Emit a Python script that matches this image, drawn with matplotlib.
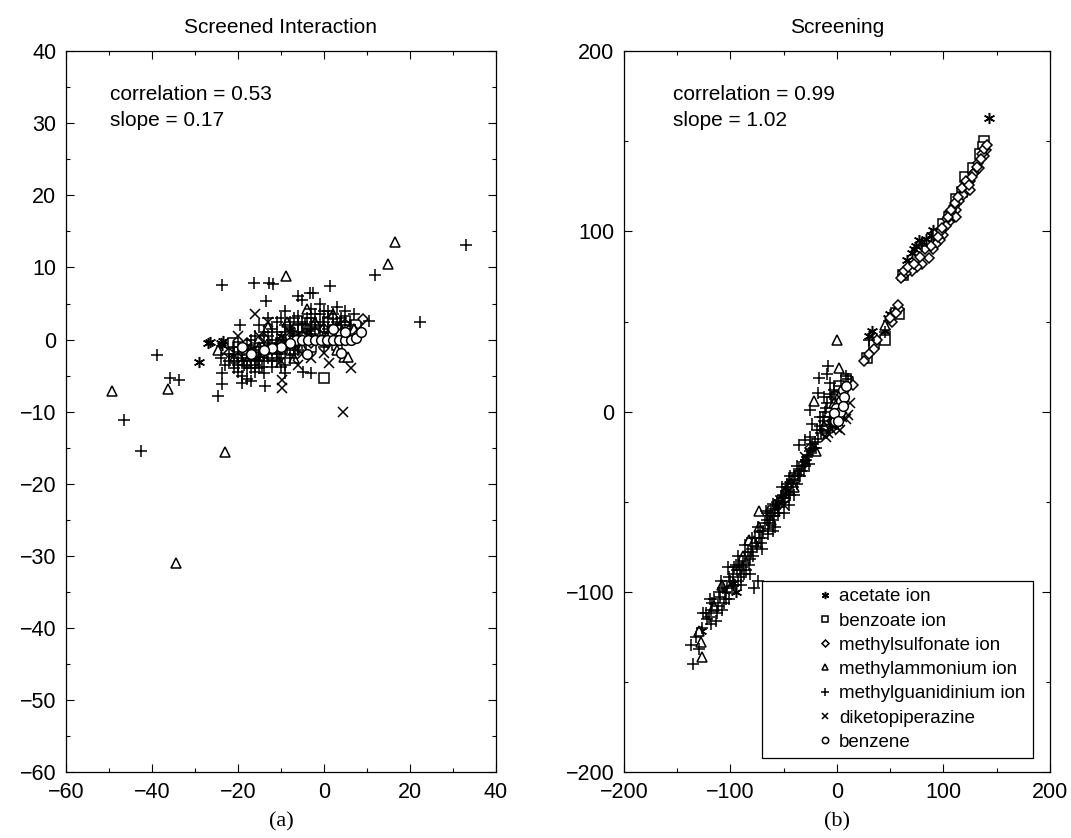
"""Two-panel scatter: screened interaction (a) and screening (b) comparison."""
import matplotlib

matplotlib.use("Agg")
import matplotlib.pyplot as plt  # noqa: E402
from matplotlib.ticker import MultipleLocator  # noqa: E402

plt.rcParams["font.family"] = ["Liberation Sans", "DejaVu Sans"]

SPECIES = ["acetate ion", "benzoate ion", "methylsulfonate ion", "methylammonium ion",
           "methylguanidinium ion", "diketopiperazine", "benzene"]

# ---- panel (a): screened interaction ---------------------------------------
acetate_a = [(-29, -3.1), (-26.9, -0.5), (-26.5, -0.3), (-24, -0.5), (-23.5, -0.2),
             (-23.8, -0.7), (-12, -1.5), (-8, -0.8), (-5, 0.3), (-15, -2.2), (-18, -1.5),
             (-3, 1.0), (-10, 0.5), (0, 1.2), (2, 0.6)]
benzoate_a = [(-21.2, -0.5), (-20, -1), (0, -5.3), (5, 2.6), (7.4, 2.0), (-10, -0.5),
              (-5, 0.2), (-15, -1.2), (-18, -2.2), (2, 0.5), (4, 1.2), (-8, -1.5),
              (-12, -2.2), (-3, -1), (1, 2.5), (-6, 1.5), (-1, 0.5), (3, -0.8)]
methylsulfonate_a = [(9.1, 2.9), (-5, 0.5), (-2, 1), (0, 1.5), (3, 1.8), (-8, -0.5),
                     (-12, -1.5), (-16, -2), (-20, -2.5), (5, 2.2), (-3, -0.5), (-14, 0.2),
                     (-10, -1.2), (6, 0.8), (1, -0.5), (-18, -0.5), (-22, -1.8)]
methylammonium_a = [(-49.4, -7.2), (-36.2, -6.8), (-34.5, -31), (-23, -15.6), (16.5, 13.5),
                    (15, 10.5), (-8.8, 8.8), (-4, 4.2), (2, 3.5), (-8.7, 2.5), (-24.6, -1.5),
                    (4.7, -2.4), (5.7, -2.4), (-15, -1), (-10, 0), (-5, -1), (-18, -3),
                    (0, 0.5), (-21, -2.5), (-13, 1.8), (-2, 2.5), (3, -1.5), (-7, -2.5),
                    (7, 1.5)]
methylguanidinium_a = [(-46.5, -11.2), (-42.6, -15.4), (-38.8, -2.2), (-35.8, -5.4),
                       (-33.7, -5.6), (-23.6, -4.7), (-23.8, -6.2), (-24.6, -7.8),
                       (-13.7, -6.4), (-9.1, -4.6), (-4.8, -4.5), (-3.1, -4.7), (-23.6, 7.6),
                       (-16.2, 7.8), (-12.7, 7.8), (-11.8, 7.7), (1.4, 7.5), (-6, 6.1),
                       (-3.3, 6.4), (-2.5, 6.4), (-13.5, 5.3), (-19.5, 2.0), (22.3, 2.5),
                       (10.5, 2.6), (11.9, 9.0), (33, 13.1), (-5.2, 5.5),
                       (-22, -3), (-21, -4), (-20, -3.5), (-19, -2), (-18, -4), (-17, -3),
                       (-16, -1), (-15, -3), (-14, -2), (-13, -1), (-12, 0), (-11, -2),
                       (-10, -1), (-9, 1), (-8, 0), (-7, -1), (-6, 2), (-5, 1), (-4, 3),
                       (-3, 2), (-2, 3.5), (-1, 2), (0, 4), (1, 3), (2, 2), (3, 4.5), (4, 3),
                       (-10, 3), (-14, 1), (-17, 0), (-20, -1), (-12, -3), (-8, -2.5),
                       (-6, -0.5), (-2, 0), (0, -1), (5, 4), (7, 3.5), (-9, -3.5), (-15, 2),
                       (-11, 1), (-7, 3), (-3, 4.2), (-1, 5), (-19, -5), (-21, -2),
                       (-16, -4.5),
                       (-23, -3.5), (-22, -2), (-21, -3), (-20, -4.5), (-19, -3),
                       (-18, -2.5), (-17, -4), (-17, -1.5), (-16, -2.5), (-16, -3.5),
                       (-15, -1.5), (-15, -4), (-14, -3), (-14, -0.5), (-13, -2.5),
                       (-13, 0.5), (-12, -1.5), (-12, 1.5), (-11, -0.5), (-11, -3),
                       (-10, 0), (-10, -2), (-9, -1), (-9, 2), (-8, 1.5), (-8, -1.5),
                       (-7, 0.5), (-7, -2), (-6, 1), (-6, -1.5), (-5, 2.5), (-5, -0.5),
                       (-4, 1.5), (-4, 0), (-3, 3), (-3, 0.8), (-2, 1.5), (-2, 2.5),
                       (-1, 3.5), (-1, 0.5), (0, 2.5), (0, 1), (1, 1.5), (1, 4), (2, 3.5),
                       (3, 2.5), (4, 2), (5, 2.5), (6, 2), (-19, -6), (-18, -5.5),
                       (-17, -5.8), (-20, -2.5), (-24, -2.5), (-21, -1), (-13, 3),
                       (-11, 2.5), (-9, 4),
                       (-18.5, -3.5), (-17.5, -2.2), (-16.5, -1.8), (-15.5, -2.8),
                       (-14.5, -3.8), (-13.5, -1.8), (-12.5, -0.8), (-11.5, -1.2),
                       (-10.5, -2.6), (-9.5, -0.2), (-8.5, -1.2), (-7.5, 1.2), (-6.5, -0.8),
                       (-5.5, 0.2), (-4.5, 2.2), (-3.5, 1.2), (-14, -4.6), (-12, -3.8),
                       (-10, -3.8), (-8, 2.5), (-6, 3.2), (-16, 0.5), (-18, -0.8)]
diketopiperazine_a = [(-9.7, -5.6), (-9.7, -6.7), (1.2, -3.3), (6.3, -3.9), (4.5, -10),
                      (-5, -2), (-12, -1), (-15, 0.5), (-8, 1), (-3, -2.5), (-18, -1),
                      (-10, -3), (-16, 3.5), (-6, -3.5), (0, -1.8), (-13, 2.5), (8, 1.5),
                      (-20, 0.5)]
benzene_a = [(-6.4, -0.1), (-5, -0.1), (-3.6, -0.1), (-2.2, -0.1), (-0.8, -0.1), (0.6, -0.1),
             (2, -0.1), (3.4, -0.1), (4.8, -0.1), (6.2, -0.1), (7.5, 0.2), (-8, -0.5),
             (-10, -1), (-12, -1.2), (-14, -1.5), (-17, -2), (-19, -1), (4, -1.8), (2, 1.5),
             (5, 1), (-4, -2), (8.5, 1)]

# ---- panel (b): screening ----------------------------------------------------
acetate_b = [(143, 163), (70, 88), (74, 92), (77, 95), (88, 98), (92, 99), (84, 96), (80, 94),
             (66, 84), (72, 90), (90, 101), (30, 42), (33, 45), (50, 54), (48, 52), (45, 45),
             (-3, -3), (-5, -8), (-2, 4), (-30, -28), (-40, -35), (-55, -50), (-45, -40),
             (-95, -100), (-98, -95), (-128, -122), (10, 18), (120, 125), (105, 110)]
benzoate_b = [(138, 150), (137, 147), (134, 143), (120, 130), (117, 122), (112, 118),
              (105, 108), (100, 104), (95, 98), (62, 76), (55, 55), (58, 54), (45, 40),
              (35, 38), (5, 5), (3, 10), (0, -2), (-2, -5), (-40, -37), (-60, -55), (8, 18),
              (2, 14), (-1, 8), (28, 30), (128, 135)]
methylsulfonate_b = [(140, 145), (138, 142), (136, 143), (132, 138), (130, 133), (128, 132),
                     (125, 128), (122, 125), (119, 122), (118, 120), (115, 117), (112, 112),
                     (110, 114), (108, 110), (105, 105), (103, 107), (102, 103), (100, 98),
                     (98, 100), (97, 95), (93, 93), (90, 90), (86, 85), (80, 82), (75, 80),
                     (70, 78), (65, 77), (62, 75), (60, 74), (58, 57), (55, 55), (52, 50),
                     (50, 52), (57, 59), (38, 40), (35, 35), (30, 32), (25, 28), (-5, -5),
                     (-10, -12), (-45, -42), (-25, -20), (15, 15), (112, 108), (125, 123),
                     (133, 135), (63, 78), (67, 80), (72, 82), (78, 86), (83, 90), (88, 92),
                     (95, 97), (99, 102), (104, 108), (107, 112), (111, 116), (114, 119),
                     (117, 124), (121, 128), (124, 126), (127, 130), (131, 136), (135, 140),
                     (138, 146), (141, 148)]
methylammonium_b = [(0, 40), (1.6, 24), (-22, 6), (-73, -55), (-73, -64), (-83, -71),
                    (-78, -72), (-108, -96), (-128, -128), (-130, -122), (-127, -136),
                    (-62, -60), (-50, -45), (-88, -80), (5, 10), (-3, 5), (-40, -42),
                    (-20, -22), (-100, -98), (-115, -108), (-58, -55), (45, 48), (-12, -8)]
methylguanidinium_b = [(-137, -129.6), (-135, -140), (-126, -112), (-123, -112), (-122, -115),
                       (-118, -110), (-115, -104), (-112, -108), (-110, -103), (-108, -110),
                       (-105, -100), (-103, -98), (-100, -94), (-98, -90), (-96, -96),
                       (-94, -88), (-92, -85), (-90, -92), (-88, -84), (-86, -80), (-85, -88),
                       (-84, -78), (-82, -82), (-80, -76), (-78, -97.8), (-74.4, -94),
                       (-77, -70), (-75, -75), (-72, -66), (-70, -70), (-68, -62), (-65, -65),
                       (-63, -58), (-60, -60), (-58, -54), (-56, -50), (-55, -56), (-52, -48),
                       (-50, -50), (-48, -44), (-46, -42), (-44, -46), (-42, -38), (-40, -36),
                       (-38, -40), (-36, -32), (-35, -36), (-33, -30), (-30, -30), (-28, -25),
                       (-25, -22), (-36, -18.5), (-30, -16), (-25, -14), (-23, -18), (-23, -7),
                       (-19, -10), (-25, 0.9), (-15.6, -2.8), (-17.8, 10.5), (-16.6, 18.5),
                       (-9.4, 20.7), (-8.4, 25.3), (-6.9, 16.1), (-5, 8), (-3, 12), (-10, 2),
                       (-12, -5), (-7, -3), (2, 5), (4, 14), (8, 20), (10, 18), (30, 40),
                       (-20, -20), (-15, -12), (-45, -52), (-65, -68), (-95, -85),
                       (-118, -118), (-130, -132), (-106, -106), (45, 44), (80, 92),
                       (-58, -64), (-67, -55),
                       (-132, -125), (-127, -120), (-120, -114), (-117, -106), (-113, -112),
                       (-111, -100), (-107, -98), (-104, -104), (-101, -92), (-99, -97),
                       (-97, -86), (-93, -94), (-91, -88), (-89, -86), (-87, -90), (-83, -85),
                       (-81, -78), (-79, -80), (-76, -73), (-73, -70), (-71, -73), (-69, -66),
                       (-66, -60), (-64, -62), (-62, -56), (-59, -58), (-57, -52), (-54, -53),
                       (-53, -47), (-51, -46), (-49, -48), (-47, -40), (-45, -45), (-43, -40),
                       (-41, -42), (-39, -36), (-37, -35), (-34, -33), (-32, -28), (-31, -33),
                       (-29, -27), (-27, -24), (-26, -29), (-24, -21), (-22, -20), (-21, -17),
                       (-18, -15), (-16, -8), (-14, -10), (-13, -3), (-11, 0), (-9, 5),
                       (-7, 10), (-12, 8),
                       (-119, -104), (-109, -94), (-102, -86), (-93, -80), (-86, -74),
                       (-80, -70), (-74, -64), (-66, -56), (-60, -51), (-52, -42),
                       (-44, -36), (-38, -30), (-114, -116), (-101, -104), (-90, -96),
                       (-82, -90), (-70, -76), (-60, -66), (-50, -56), (-40, -46)]
diketopiperazine_b = [(-8, -12), (-6, -9.6), (0, -9), (2, -6), (5, -3), (-3, -5), (10, -2),
                      (-10, -14), (-4, -7), (3, -10), (8, -4), (-30, -25), (-50, -52), (12, 5),
                      (-1, -2)]
benzene_b = [(0, 0), (1, 3), (2, 5), (3, 8), (5, 10), (6, 12), (8, 14), (0, -3), (-2, -5),
             (4, 6), (-1, 2), (2, -2), (7, 8), (3, 0), (-3, -1), (1, -5), (6, 3)]

PANEL_A = [acetate_a, benzoate_a, methylsulfonate_a, methylammonium_a,
           methylguanidinium_a, diketopiperazine_a, benzene_a]
PANEL_B = [acetate_b, benzoate_b, methylsulfonate_b, methylammonium_b,
           methylguanidinium_b, diketopiperazine_b, benzene_b]

# marker style per species: (marker, size, filled-white)
STYLE = [((6, 2, 0), 8, False), ("s", 6.5, True), ("D", 5.5, True), ("^", 7.5, True),
         ("+", 9, False), ("x", 6.5, False), ("o", 7, True)]


def draw_points(ax, series, with_labels=False):
    for pts, (marker, ms, filled), name in zip(series, STYLE, SPECIES):
        xs = [p[0] for p in pts]
        ys = [p[1] for p in pts]
        ax.plot(xs, ys, linestyle="none", marker=marker, markersize=ms,
                markerfacecolor="white" if filled else "none",
                markeredgecolor="black", markeredgewidth=1.1,
                label=name if with_labels else None)


def style_axes(ax, lim, major, minor):
    ax.set_xlim(*lim[0])
    ax.set_ylim(*lim[1])
    ax.xaxis.set_major_locator(MultipleLocator(major[0]))
    ax.xaxis.set_minor_locator(MultipleLocator(minor[0]))
    ax.yaxis.set_major_locator(MultipleLocator(major[1]))
    ax.yaxis.set_minor_locator(MultipleLocator(minor[1]))
    ax.tick_params(which="both", direction="in", top=True, right=True, labelsize=15.5)
    ax.tick_params(which="major", length=6, width=0.8, pad=7)
    ax.tick_params(which="minor", length=3, width=0.8)
    for sp in ax.spines.values():
        sp.set_linewidth(0.9)


fig = plt.figure(figsize=(10.71, 8.38), dpi=100)
ax_a = fig.add_axes([0.0616, 0.0788, 0.4015, 0.860])
ax_b = fig.add_axes([0.5826, 0.0788, 0.3978, 0.860])

draw_points(ax_a, PANEL_A)
style_axes(ax_a, ((-60, 40), (-60, 40)), (20, 10), (10, 5))
ax_a.set_title("Screened Interaction", fontsize=15, pad=13)
ax_a.text(0.102, 0.953, "correlation = 0.53\nslope = 0.17", transform=ax_a.transAxes,
          fontsize=15, va="top", ha="left", linespacing=1.45)

draw_points(ax_b, PANEL_B, with_labels=True)
style_axes(ax_b, ((-200, 200), (-200, 200)), (100, 100), (50, 50))
ax_b.set_title("Screening", fontsize=15, pad=13)
ax_b.text(0.114, 0.953, "correlation = 0.99\nslope = 1.02", transform=ax_b.transAxes,
          fontsize=15, va="top", ha="left", linespacing=1.45)

leg = ax_b.legend(loc="lower right", bbox_to_anchor=(0.96, 0.019), borderaxespad=0,
                  fontsize=13.5, markerscale=0.65, handlelength=5.9, handletextpad=-2.2,
                  labelspacing=0.38, borderpad=0.4, fancybox=False, framealpha=1)
leg.get_frame().set_edgecolor("black")
leg.get_frame().set_linewidth(0.9)

fig.text(0.2623, 0.019, "(a)", ha="center", va="center", fontsize=16,
         family=["Liberation Serif", "DejaVu Serif"])
fig.text(0.7815, 0.019, "(b)", ha="center", va="center", fontsize=16,
         family=["Liberation Serif", "DejaVu Serif"])

fig.savefig("out.png", dpi=100)
